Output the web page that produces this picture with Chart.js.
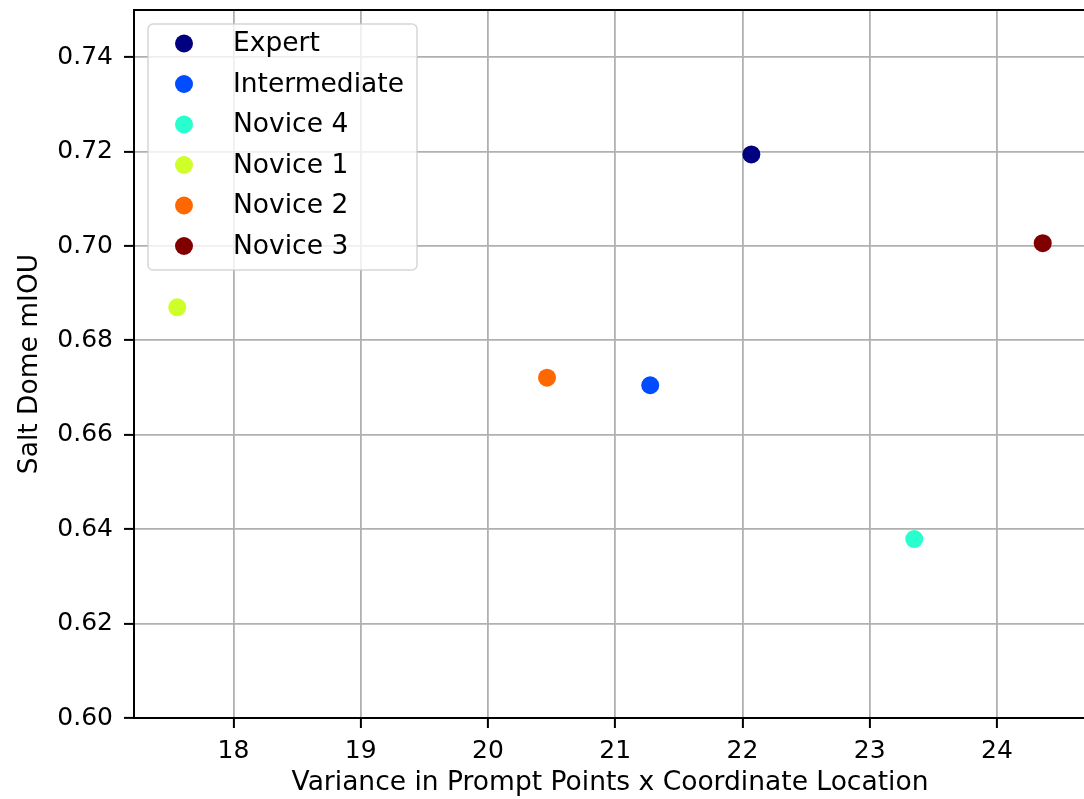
<!DOCTYPE html>
<html>
<head>
<meta charset="utf-8">
<script src="https://cdn.jsdelivr.net/npm/chart.js@4/dist/chart.umd.min.js"></script>
<style>
  html, body { margin: 0; padding: 0; background: #fff; overflow: hidden; }
  #wrap { position: absolute; left: 0; top: 0; width: 1100px; height: 799px; }
</style>
</head>
<body>
<div id="wrap"><canvas id="c" width="1100" height="799"></canvas></div>
<script>
// ---- data ----
const labels = ["Expert", "Intermediate", "Novice 4", "Novice 1", "Novice 2", "Novice 3"];
const xVariance = [22.07, 21.275, 23.35, 17.558, 20.464, 24.36];
const yMiou = [0.7194, 0.6705, 0.6379, 0.6870, 0.6721, 0.7006];
const colors = ["#000080", "#004cff", "#29ffce", "#ceff29", "#ff6800", "#800000"];
const xTicksStep = 1;
const yTicksStep = 0.02;
const xTitle = "Variance in Prompt Points x Coordinate Location";
const yTitle = "Salt Dome mIOU";

const FONT = "'DejaVu Sans', 'Liberation Sans', sans-serif";
const FS = 25;     // tick labels
const FS_T = 26.5; // axis titles and legend

const datasets = labels.map((name, i) => ({
  label: name,
  data: [{ x: xVariance[i], y: yMiou[i] }],
  backgroundColor: colors[i],
  borderColor: colors[i],
  borderWidth: 0,
  pointRadius: 9,
  pointHoverRadius: 9
}));

const frameAndLegend = {
  id: 'frameAndLegend',
  afterDraw(chart) {
    const ctx = chart.ctx;
    const a = chart.chartArea;
    ctx.save();
    // top / right spines
    ctx.strokeStyle = '#000';
    ctx.lineWidth = 2;
    ctx.beginPath();
    ctx.moveTo(a.left, a.top);
    ctx.lineTo(a.right, a.top);
    ctx.lineTo(a.right, a.bottom);
    ctx.stroke();

    // legend box (upper left)
    const bx = a.left + 14, by = a.top + 14, bw = 269, bh = 246, r = 5;
    ctx.beginPath();
    ctx.moveTo(bx + r, by);
    ctx.lineTo(bx + bw - r, by);
    ctx.arcTo(bx + bw, by, bx + bw, by + r, r);
    ctx.lineTo(bx + bw, by + bh - r);
    ctx.arcTo(bx + bw, by + bh, bx + bw - r, by + bh, r);
    ctx.lineTo(bx + r, by + bh);
    ctx.arcTo(bx, by + bh, bx, by + bh - r, r);
    ctx.lineTo(bx, by + r);
    ctx.arcTo(bx, by, bx + r, by, r);
    ctx.closePath();
    ctx.fillStyle = 'rgba(255,255,255,0.8)';
    ctx.fill();
    ctx.strokeStyle = 'rgba(204,204,204,0.8)';
    ctx.lineWidth = 1.5;
    ctx.stroke();

    const rowPitch = 40.5;
    const firstY = by + 19.5;
    ctx.font = FS_T + "px " + FONT;
    ctx.textBaseline = 'middle';
    ctx.textAlign = 'left';
    chart.data.datasets.forEach((ds, i) => {
      const cy = firstY + i * rowPitch;
      ctx.beginPath();
      ctx.arc(bx + 36, cy, 9, 0, Math.PI * 2);
      ctx.fillStyle = ds.backgroundColor;
      ctx.fill();
      ctx.fillStyle = '#000';
      ctx.fillText(ds.label, bx + 85, cy + 1);
    });
    ctx.restore();
  }
};

new Chart(document.getElementById('c'), {
  type: 'scatter',
  data: { datasets },
  options: {
    responsive: false,
    animation: false,
    devicePixelRatio: 1,
    layout: { padding: { top: 10, left: 0, right: 14, bottom: 0 } },
    plugins: {
      legend: { display: false },
      tooltip: { enabled: false }
    },
    scales: {
      x: {
        type: 'linear',
        min: 17.218,
        max: 24.70,
        afterFit(s) { s.height = 81; s.paddingLeft = 0; s.paddingRight = 0; },
        ticks: {
          stepSize: xTicksStep,
          includeBounds: false,
          padding: 8,
          color: '#000',
          font: { family: FONT, size: FS },
          maxRotation: 0,
          callback: v => String(Math.round(v))
        },
        grid: {
          color: '#b0b0b0',
          lineWidth: 1.8,
          tickColor: '#000',
          tickLength: 10,
          tickWidth: 2
        },
        border: { color: '#000', width: 2 },
        title: {
          display: true,
          text: xTitle,
          color: '#000',
          font: { family: FONT, size: FS_T },
          padding: { top: 0, bottom: 0 }
        }
      },
      y: {
        type: 'linear',
        min: 0.60,
        max: 0.75,
        afterFit(s) { s.width = 134; s.paddingTop = 0; s.paddingBottom = 0; },
        ticks: {
          stepSize: yTicksStep,
          includeBounds: false,
          padding: 11,
          color: '#000',
          font: { family: FONT, size: FS },
          callback: v => Number(v).toFixed(2)
        },
        grid: {
          color: '#b0b0b0',
          lineWidth: 1.8,
          tickColor: '#000',
          tickLength: 10,
          tickWidth: 2
        },
        border: { color: '#000', width: 2 },
        title: {
          display: true,
          text: yTitle,
          color: '#000',
          font: { family: FONT, size: FS_T },
          padding: { top: 14, bottom: 0 }
        }
      }
    }
  },
  plugins: [frameAndLegend]
});
</script>
</body>
</html>
